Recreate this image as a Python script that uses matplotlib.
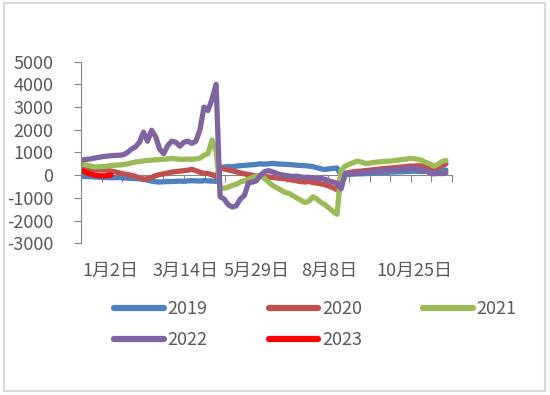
import matplotlib
matplotlib.use("Agg")
import matplotlib.pyplot as plt
import numpy as np
from matplotlib.patches import Rectangle

plt.rcParams["font.family"] = ["Noto Sans CJK SC", "DejaVu Sans"]

# one value per category step (about every 2-3 trading days)
S2019 = [-50, -60, -70, -80, -90, -100, -100, -110, -110, -100,
         -120, -130, -140, -150, -160, -180, -220, -260, -290, -300,
         -290, -280, -280, -270, -260, -270, -250, -240, -250, -260,
         -240, -250, -260, -270, 350, 360, 380, 370, 400, 420,
         430, 450, 460, 480, 500, 490, 500, 520, 500, 490,
         480, 470, 460, 440, 430, 420, 400, 380, 330, 280,
         250, 280, 300, 320, 0, 20, 40, 50, 60, 60,
         70, 80, 90, 100, 110, 120, 130, 140, 150, 150,
         160, 170, 180, 170, 160, 170, 180, 190, 200, 220, 230]
S2020 = [280, 260, 240, 230, 240, 230, 220, 180, 150, 100,
         60, 30, 0, -50, -120, -180, -150, -100, -20, 30,
         60, 100, 140, 160, 180, 200, 220, 260, 200, 130,
         80, 80, 20, -50, 300, 280, 230, 200, 150, 100,
         60, 30, 0, -30, -40, -60, -80, -100, -120, -140,
         -160, -180, -220, -250, -280, -300, -280, -320, -350, -380,
         -420, -480, -550, -650, 0, 80, 120, 150, 170, 180,
         200, 220, 240, 260, 280, 300, 310, 330, 350, 360,
         380, 400, 400, 420, 400, 380, 350, 330, 360, 420, 500]
S2021 = [480, 440, 400, 360, 370, 380, 400, 420, 440, 450,
         470, 500, 540, 580, 600, 630, 650, 660, 680, 690,
         700, 720, 740, 720, 700, 700, 710, 700, 720, 750,
         880, 950, 1550, 1050, -550, -580, -520, -450, -400, -300,
         -250, -180, -100, -40, 0, -150, -300, -450, -550, -650,
         -750, -800, -900, -1000, -1100, -1200, -1150, -950, -1050, -1200,
         -1300, -1450, -1600, -1720, 200, 400, 480, 550, 620, 580,
         520, 530, 560, 580, 600, 610, 620, 640, 660, 690,
         700, 740, 730, 700, 650, 560, 500, 400, 480, 600, 650]
S2022 = [680, 700, 720, 760, 790, 820, 840, 860, 870, 880,
         900, 1000, 1150, 1250, 1450, 1900, 1500, 1980, 1700, 1150,
         950, 1300, 1500, 1450, 1280, 1450, 1500, 1400, 1500, 2000,
         3000, 2850, 3350, 4000, -950, -1050, -1300, -1400, -1350, -1050,
         -900, -350, -300, -250, 0, 150, 200, 150, 80, 20,
         0, -30, -60, -40, -80, -100, -90, -120, -150, -140,
         -180, -250, -300, -350, -600, 50, 80, 60, 100, 120,
         130, 150, 170, 180, 200, 220, 230, 240, 260, 270,
         280, 290, 300, 280, 250, 200, 100, 60, 80, 70, 100]
S2023 = [180, 100, 40, 0, -20, -30, -20, 0]

SERIES = {"2019": S2019, "2020": S2020, "2021": S2021, "2022": S2022, "2023": S2023}
COLORS = {"2019": "#4F81BD", "2020": "#C0504D", "2021": "#9BBB59",
          "2022": "#8064A2", "2023": "#FF0000"}

X_LABELS = ["1月2日", "3月14日", "5月29日", "8月8日", "10月25日"]
X_LABEL_POS = [7.2, 26.0, 43.5, 61.6, 82.6]
Y_TICKS = np.arange(-3000, 5001, 1000)

AXIS_INK = "#868686"
TEXT_INK = "#595959"
N_CAT = 92

fig = plt.figure(figsize=(5.5, 3.95), dpi=100)
ax = fig.add_axes([81 / 550, 1 - 243.3 / 395, (452 - 81) / 550, (243.3 - 61.7) / 395])

handles = {}
for name, vals in SERIES.items():
    x = np.arange(len(vals)) + 0.5
    handles[name], = ax.plot(x, vals, color=COLORS[name], linewidth=3.8,
                             solid_capstyle="round", solid_joinstyle="round", label=name)

ax.set_xlim(0, N_CAT)
ax.set_ylim(-3000, 5000)
ax.set_yticks(Y_TICKS)
ax.set_yticklabels([str(v) for v in Y_TICKS])
ax.set_xticks(np.linspace(0, N_CAT, 19))
ax.set_xticklabels([])

for side in ("top", "right"):
    ax.spines[side].set_visible(False)
ax.spines["bottom"].set_position(("data", 0))
ax.spines["bottom"].set_color(AXIS_INK)
ax.spines["left"].set_color(AXIS_INK)
ax.spines["bottom"].set_zorder(0)
ax.tick_params(axis="y", colors=AXIS_INK, labelcolor=TEXT_INK, labelsize=13,
               length=5, pad=15, direction="out")
ax.tick_params(axis="x", colors=AXIS_INK, length=5, direction="out")

for lab, pos in zip(X_LABELS, X_LABEL_POS):
    ax.text(pos, -0.15, lab, transform=ax.get_xaxis_transform(), ha="center",
            va="center", fontsize=13, color=TEXT_INK)

# matplotlib fills legend columns first, so reorder to get Excel's row order
order = ["2019", "2022", "2020", "2023", "2021"]
leg = fig.legend([handles[k] for k in order], order,
                 loc="upper left", bbox_to_anchor=(114 / 550, 1 - 300 / 395),
                 bbox_transform=fig.transFigure, ncol=3, frameon=False, fontsize=13,
                 handlelength=2.75, handletextpad=0.2, columnspacing=3.4,
                 labelspacing=0.72, borderpad=0, borderaxespad=0, labelcolor=TEXT_INK)
for line in leg.get_lines():
    line.set_linewidth(4.5)
    line.set_solid_capstyle("round")

fig.patches.append(Rectangle((3.5 / 550, 1 - 391 / 395), 541 / 550, 388 / 395,
                             transform=fig.transFigure, fill=False,
                             edgecolor="#d9d9d9", linewidth=1.5))

fig.savefig("out.png", dpi=100, facecolor="white")
